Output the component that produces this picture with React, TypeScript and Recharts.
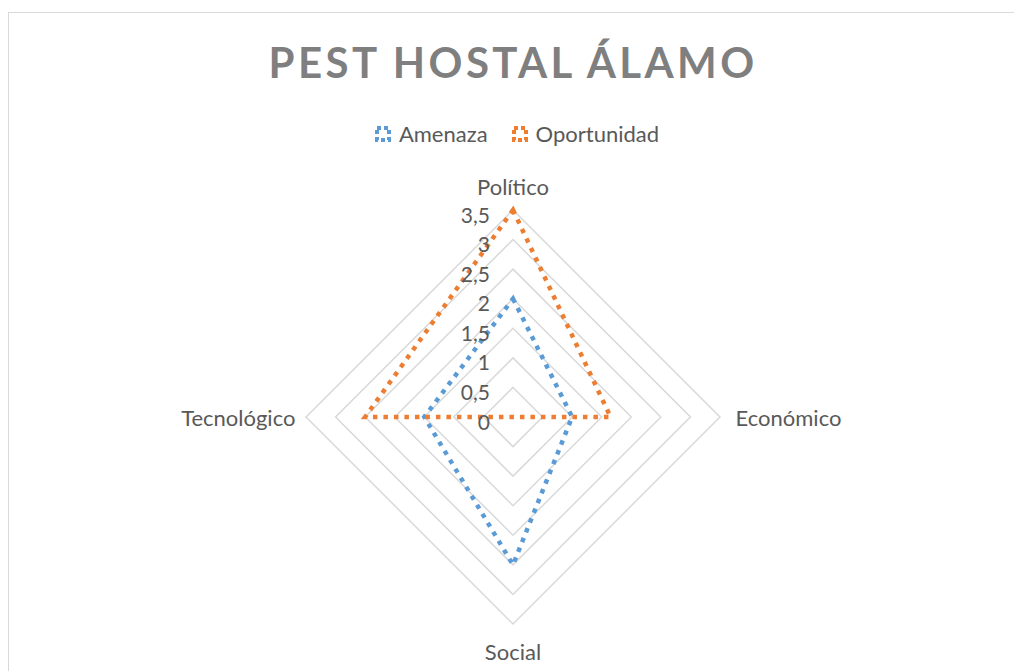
import React from 'react';
import {
  RadarChart,
  Radar,
  PolarGrid,
  PolarAngleAxis,
  PolarRadiusAxis,
} from 'recharts';

const categories = ['Político', 'Económico', 'Social', 'Tecnológico'];
const amenaza = [2, 1, 2.5, 1.5];
const oportunidad = [3.5, 1.65, 0, 2.5];
const radiusTicks = [0, 0.5, 1, 1.5, 2, 2.5, 3, 3.5];
const seriesNames = ['Amenaza', 'Oportunidad'];

const COLORS = ['#5b9bd5', '#ed7d31'];
const FONT = 'Lato, "Open Sans", sans-serif';
const TEXT = '#595959';
const CX = 513;
const CY = 417;
// recharts keeps the radius domain at [0, 4] here, so the outer radius is
// sized so that 3.5 lands on the outermost grid ring (~207px)
const DOMAIN_MAX = 4;
const OUTER = (207 * DOMAIN_MAX) / 3.5;

const data = categories.map((subject, i) => ({
  subject,
  Amenaza: amenaza[i],
  Oportunidad: oportunidad[i],
}));

const AngleTick = (props: any) => {
  const { x, y, payload, textAnchor } = props;
  let dx = 0;
  let dy = 0;
  if (textAnchor === 'middle') dy = y < CY ? 14 : -10;
  else if (textAnchor === 'start') dx = -22;
  else if (textAnchor === 'end') dx = 27;
  return (
    <text
      x={x + dx}
      y={y + dy}
      textAnchor={textAnchor}
      dominantBaseline="central"
      fill={TEXT}
      fontSize={22}
      fontFamily={FONT}
    >
      {payload.value}
    </text>
  );
};

const RadiusTick = (props: any) => {
  const { x, y, payload } = props;
  return (
    <text
      x={x - 23}
      y={y + 4}
      textAnchor="end"
      dominantBaseline="central"
      fill={TEXT}
      fontSize={21}
      fontFamily={FONT}
    >
      {String(payload.value).replace('.', ',')}
    </text>
  );
};

// legend drawn outside the chart so it doesn't shrink the radar
const LegendBox = () => (
  <div
    style={{
      position: 'absolute',
      left: 0,
      top: 120,
      width: 1014,
      paddingLeft: 20,
      boxSizing: 'border-box',
      display: 'flex',
      justifyContent: 'center',
      alignItems: 'center',
      gap: 24,
      fontFamily: FONT,
      fontSize: 22,
      color: TEXT,
    }}
  >
    {seriesNames.map((name, i) => (
      <div key={name} style={{ display: 'flex', alignItems: 'center' }}>
        <svg width={16} height={16} style={{ marginRight: 8 }}>
          <rect
            x={2}
            y={2}
            width={12}
            height={12}
            fill="none"
            stroke={COLORS[i]}
            strokeWidth={4}
            strokeDasharray="4 3"
          />
        </svg>
        <span>{name}</span>
      </div>
    ))}
  </div>
);

export default function App() {
  return (
    <div
      style={{
        position: 'absolute',
        left: 0,
        top: 0,
        width: 1014,
        height: 671,
        overflow: 'hidden',
        background: '#fff',
      }}
    >
      <div
        style={{
          position: 'absolute',
          left: 8,
          top: 12,
          width: 1100,
          height: 800,
          border: '1px solid #d9d9d9',
        }}
      />
      <div
        style={{
          position: 'absolute',
          left: 0,
          top: 41,
          width: 1014,
          paddingLeft: 12,
          boxSizing: 'border-box',
          textAlign: 'center',
          fontFamily: FONT,
          fontWeight: 700,
          fontSize: 42,
          lineHeight: '43px',
          letterSpacing: 3.4,
          color: '#7f7f7f',
        }}
      >
        PEST HOSTAL ÁLAMO
      </div>
      <LegendBox />
      <div style={{ position: 'absolute', left: 0, top: 0 }}>
        <RadarChart
          width={1014}
          height={671}
          data={data}
          cx={CX}
          cy={CY}
          outerRadius={OUTER}
          startAngle={90}
          endAngle={-270}
        >
          <PolarGrid gridType="polygon" radialLines={false} stroke="#d9d9d9" strokeWidth={1.5} />
          <PolarAngleAxis dataKey="subject" tick={<AngleTick />} tickLine={false} axisLine={false} />
          <PolarRadiusAxis
            angle={90}
            domain={[0, DOMAIN_MAX]}
            ticks={radiusTicks as any}
            type="number"
            axisLine={false}
            tickLine={false}
            tick={<RadiusTick />}
          />
          {seriesNames.map((name, i) => (
            <Radar
              key={name}
              name={name}
              dataKey={name}
              stroke={COLORS[i]}
              strokeWidth={4.5}
              strokeDasharray="4.5 6"
              strokeLinejoin="miter"
              fill="none"
              fillOpacity={0}
              dot={false}
              isAnimationActive={false}
            />
          ))}
        </RadarChart>
      </div>
    </div>
  );
}
